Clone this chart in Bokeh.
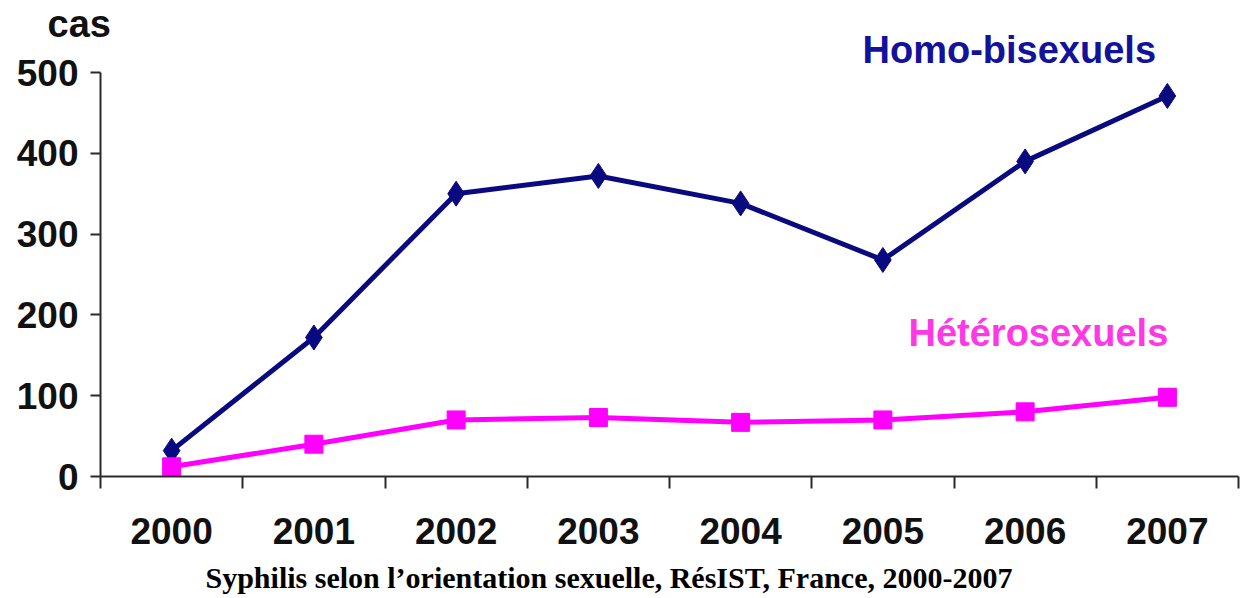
from bokeh.plotting import figure
from bokeh.models import Range1d, FixedTicker, LinearAxis, Label, Title
from bokeh.embed import file_html
from bokeh.resources import INLINE

years = ["2000", "2001", "2002", "2003", "2004", "2005", "2006", "2007"]
homo = [32, 172, 350, 372, 338, 268, 390, 471]
hetero = [12, 40, 70, 73, 67, 70, 80, 98]
y_ticks = [0, 100, 200, 300, 400, 500]

n = len(years)
xs = [i + 0.5 for i in range(n)]

p = figure(width=1244, height=598, output_backend="svg", toolbar_location=None,
           x_range=Range1d(0, n), y_range=Range1d(0, 500),
           x_axis_type=None, y_axis_type=None,
           min_border_left=100, min_border_right=6, min_border_top=72, min_border_bottom=122)
p.frame_width = 1138
p.frame_height = 404
p.outline_line_color = None
p.xgrid.visible = False
p.ygrid.visible = False
p.background_fill_color = "white"
p.border_fill_color = "white"

AXC = "#2a2a2a"
FONT = "Liberation Sans"

xaxis = LinearAxis(ticker=FixedTicker(ticks=xs, minor_ticks=list(range(n + 1))))
xaxis.major_label_overrides = {x: y for x, y in zip(xs, years)}
xaxis.major_tick_line_color = None
xaxis.major_tick_out = 0
xaxis.major_tick_in = 0
xaxis.minor_tick_line_color = AXC
xaxis.minor_tick_line_width = 2
xaxis.minor_tick_out = 12
xaxis.minor_tick_in = 0
xaxis.axis_line_color = AXC
xaxis.axis_line_width = 2
xaxis.major_label_standoff = 29
xaxis.major_label_text_font = FONT
xaxis.major_label_text_font_style = "bold"
xaxis.major_label_text_font_size = "37px"
xaxis.major_label_text_color = "#111111"
p.add_layout(xaxis, "below")

yaxis = LinearAxis(ticker=FixedTicker(ticks=y_ticks, minor_ticks=[]))
yaxis.major_tick_line_color = AXC
yaxis.major_tick_line_width = 2
yaxis.major_tick_out = 10
yaxis.major_tick_in = 0
yaxis.minor_tick_line_color = None
yaxis.axis_line_color = AXC
yaxis.axis_line_width = 2
yaxis.major_label_standoff = 12
yaxis.major_label_text_font = FONT
yaxis.major_label_text_font_style = "bold"
yaxis.major_label_text_font_size = "37px"
yaxis.major_label_text_color = "#111111"
p.add_layout(yaxis, "left")

NAVY = "#0a0a80"
MAG = "#ff00ff"

p.line(xs, homo, line_color=NAVY, line_width=5)
p.scatter(xs, homo, marker="diamond", size=25, fill_color=NAVY, line_color=NAVY)
p.line(xs, hetero, line_color=MAG, line_width=5)
p.scatter(xs, hetero, marker="square", size=18, fill_color=MAG, line_color=MAG)

p.add_layout(Label(x=5.68, y=178, text="Hétérosexuels", text_font=FONT,
                   text_font_style="bold", text_font_size="38px", text_color="#ff38e6",
                   text_baseline="alphabetic", text_align="left"))

homo_title = Title(text="Homo-bisexuels", text_font=FONT, text_font_style="bold",
                   text_font_size="38px", text_color="#12129a", align="left",
                   offset=762, standoff=4, vertical_align="bottom")
p.add_layout(homo_title, "above")
cas_title = Title(text="cas", text_font=FONT, text_font_style="bold",
                  text_font_size="38px", text_color="#111111", align="left",
                  offset=-53, standoff=-40, vertical_align="bottom")
p.add_layout(cas_title, "above")

cap = Title(text="Syphilis selon l’orientation sexuelle, RésIST, France, 2000-2007",
            text_font="Liberation Serif", text_font_style="bold",
            text_font_size="30px", text_color="black", align="left", offset=105,
            standoff=24)
p.add_layout(cap, "below")

open("out.html", "w").write(file_html(p, INLINE))
